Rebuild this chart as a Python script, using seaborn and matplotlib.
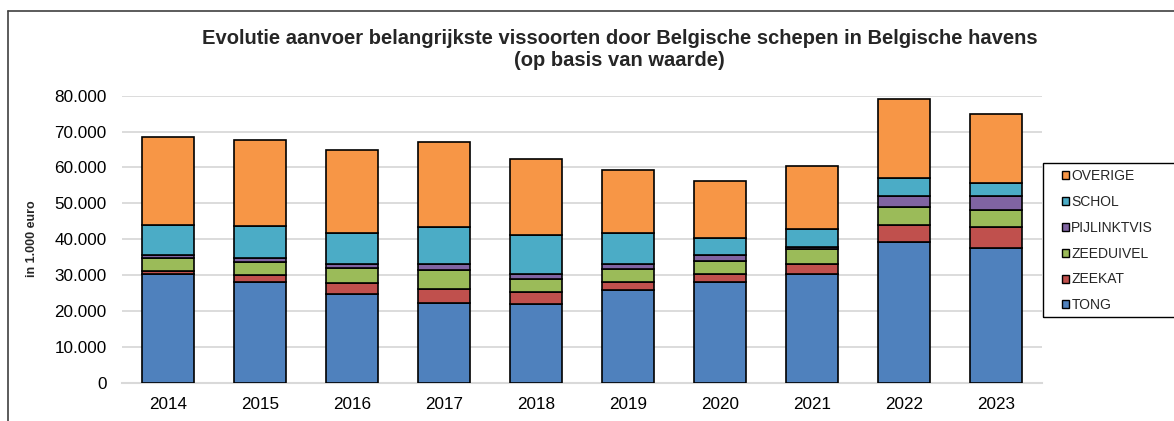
import pandas as pd
import seaborn as sns
import matplotlib.pyplot as plt
from matplotlib.lines import Line2D
from matplotlib.patches import Patch, Rectangle
from matplotlib.ticker import FuncFormatter

# Data (in 1.000 euro)
years = ["2014", "2015", "2016", "2017", "2018", "2019", "2020", "2021", "2022", "2023"]
tong = [30200, 28150, 24800, 22300, 22000, 25850, 28150, 30200, 39100, 37650]
zeekat = [1000, 1750, 3000, 3800, 3250, 2250, 2250, 2800, 4950, 5850]
zeeduivel = [3500, 3700, 4250, 5200, 3700, 3450, 3550, 4300, 4800, 4750]
pijlinktvis = [800, 1200, 950, 1650, 1400, 1600, 1500, 650, 3250, 3800]
schol = [8550, 8900, 8750, 10500, 10900, 8450, 4850, 4900, 4850, 3650]
overige = [24450, 23900, 23150, 23600, 21200, 17750, 16000, 17500, 22200, 19250]

species = ["TONG", "ZEEKAT", "ZEEDUIVEL", "PIJLINKTVIS", "SCHOL", "OVERIGE"]
colors = ["#4F81BD", "#C0504D", "#9BBB59", "#8064A2", "#4BACC6", "#F79646"]

df = pd.DataFrame({"jaar": years, "TONG": tong, "ZEEKAT": zeekat,
                   "ZEEDUIVEL": zeeduivel, "PIJLINKTVIS": pijlinktvis,
                   "SCHOL": schol, "OVERIGE": overige})

sns.set_style("white")
plt.rcParams["font.family"] = ["Liberation Sans", "DejaVu Sans"]

W, H = 1174, 421
fig = plt.figure(figsize=(W / 100, H / 100), dpi=100)
ax = fig.add_axes([0.1039, 0.091, 0.7836, 0.6818])

# stacked bars, one seaborn call per layer
bottom = [0] * len(years)
for sp, col in zip(species, colors):
    sns.barplot(x="jaar", y=sp, data=df, order=years, color=col, ax=ax,
                bottom=bottom, width=0.56, edgecolor="black", linewidth=1.2,
                saturation=1, errorbar=None, zorder=3)
    bottom = [b + v for b, v in zip(bottom, df[sp])]

ax.set_xlim(-0.5, 9.5)
ax.set_ylim(0, 80000)
ax.set_yticks(range(0, 80001, 10000))
ax.yaxis.set_major_formatter(FuncFormatter(lambda v, p: f"{int(v):,}".replace(",", ".")))
ax.grid(axis="y", color="#D9D9D9", linewidth=1.3, zorder=0)
ax.set_axisbelow(True)
for s in ["top", "right", "left"]:
    ax.spines[s].set_visible(False)
ax.spines["bottom"].set_color("#D9D9D9")
ax.spines["bottom"].set_linewidth(1.5)
ax.tick_params(axis="y", length=0, labelsize=12.3, colors="black", pad=11)
ax.tick_params(axis="x", length=0, labelsize=12.3, colors="black", pad=10)
ax.set_xlabel("")
ax.set_ylabel("in 1.000 euro", fontsize=9, fontweight="bold", labelpad=12)

fig.text(0.528, 0.882, "Evolutie aanvoer belangrijkste vissoorten door Belgische schepen in Belgische havens\n(op basis van waarde)",
         ha="center", va="center", fontsize=14.5, fontweight="bold", linespacing=1.2)

# legend, reversed order, with its own box
handles = [Patch(facecolor=c, edgecolor="black", linewidth=1) for c in colors][::-1]
leg = fig.legend(handles, species[::-1], loc="upper left",
                 bbox_to_anchor=(1056 / W, 1 - 163 / H), fontsize=10,
                 frameon=False, handlelength=0.5, handleheight=0.5,
                 handletextpad=0.15, labelspacing=0.85, borderpad=0.45,
                 borderaxespad=0)
fig.add_artist(Rectangle((1043 / W, 1 - 317 / H), 140 / W, 154 / H,
                         transform=fig.transFigure, facecolor="none",
                         edgecolor="black", linewidth=1))

# outer chart frame
fig.add_artist(Line2D([8 / W, 8 / W], [0, 1 - 11 / H], color="#404040", linewidth=1.2))
fig.add_artist(Line2D([8 / W, 1], [1 - 11 / H, 1 - 11 / H], color="#404040", linewidth=1.2))

fig.savefig("out.png", dpi=100)
plt.close()
